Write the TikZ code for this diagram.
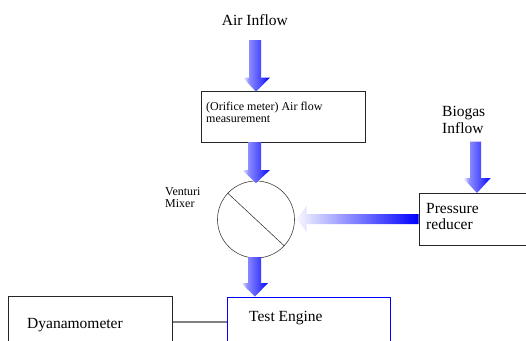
\documentclass[tikz,border=0pt]{standalone}
\usepackage{fontspec}
\setmainfont{Liberation Serif}
\usetikzlibrary{calc}
\pgfdeclarehorizontalshading{arrv}{100bp}{color(0bp)=(white); color(25bp)=(white); color(36bp)=(blue!45); color(58bp)=(blue!72); color(75bp)=(blue); color(100bp)=(blue)}
\pgfdeclarehorizontalshading{arrh}{100bp}{color(0bp)=(white); color(25bp)=(blue!3); color(75bp)=(blue); color(100bp)=(blue)}
\tikzset{
  box/.style={draw=black!85, line width=0.8pt, inner sep=0pt, anchor=north west},
  lbl/.style={anchor=base west, inner sep=0pt, font=\fontsize{15.5}{17}\selectfont},
  slbl/.style={anchor=base west, inner sep=0pt, font=\fontsize{12}{13}\selectfont},
  varrow/.style={shading=arrv},
  harrow/.style={shading=arrh},
}
\begin{document}
\begin{tikzpicture}[x=1pt,y=-1pt]
\useasboundingbox (0,0) rectangle (526,340);
\clip (0,0) rectangle (526,340);
\fill[white] (0,0) rectangle (526,340);

% boxes
\node[box, minimum width=164.3pt, minimum height=51pt] (orifice) at (200.7,91) {};
\node[box, minimum width=120pt, minimum height=52pt] (reducer) at (419,193) {};
\node[box, draw=blue, minimum width=163pt, minimum height=60pt] (engine) at (227,297) {};
\node[box, minimum width=164pt, minimum height=60pt] (dyno) at (8,296) {};

% venturi mixer
\node[draw=black!75, line width=0.6pt, circle, minimum size=77pt, inner sep=0pt] (mixer) at (256,219.5) {};
\draw[black!75, line width=0.6pt] (mixer.137) -- (mixer.-43);

% texts
\node[lbl] (airin) at (221.7,25) {Air Inflow};
\node[slbl] (ori1) at (206,110) {(Orifice meter) Air flow};
\node[slbl] (ori2) at (206,122) {measurement};
\node[slbl] (ven1) at (165,195) {Venturi};
\node[slbl] (ven2) at (165,207.5) {Mixer};
\node[lbl] (bio1) at (442,116.7) {Biogas};
\node[lbl] (bio2) at (442,133.5) {Inflow};
\node[lbl] (pr1) at (426,213.3) {Pressure};
\node[lbl] (pr2) at (426,229.5) {reducer};
\node[lbl] (te) at (249,321) {Test Engine};
\node[lbl] (dy) at (27,328) {Dyanamometer};

% shaft connector
\draw[black!50, line width=1.3pt] (dyno.east |- 0,322) -- (engine.west |- 0,322);

% fat arrows
\shade[varrow] (249,40) -- (261,40) -- (261,77.7) -- (270,77.7) -- (256,91.7) -- (243,77.7) -- (249,77.7) -- cycle;
\shade[varrow] (248,142) -- (261,142) -- (261,170) -- (270,170) -- (256,183) -- (242,170) -- (248,170) -- cycle;
\shade[varrow] (470,141.7) -- (481,141.7) -- (481,178) -- (490.7,178) -- (477,193) -- (463,178) -- (470,178) -- cycle;
\shade[varrow] (248,257) -- (261,257) -- (261,283) -- (268,283) -- (255,296.5) -- (241,283) -- (248,283) -- cycle;
\shade[harrow] (418.5,214) -- (418.5,224) -- (306.7,224) -- (306.7,232) -- (296.7,219) -- (306.7,206) -- (306.7,214) -- cycle;
\end{tikzpicture}
\end{document}
